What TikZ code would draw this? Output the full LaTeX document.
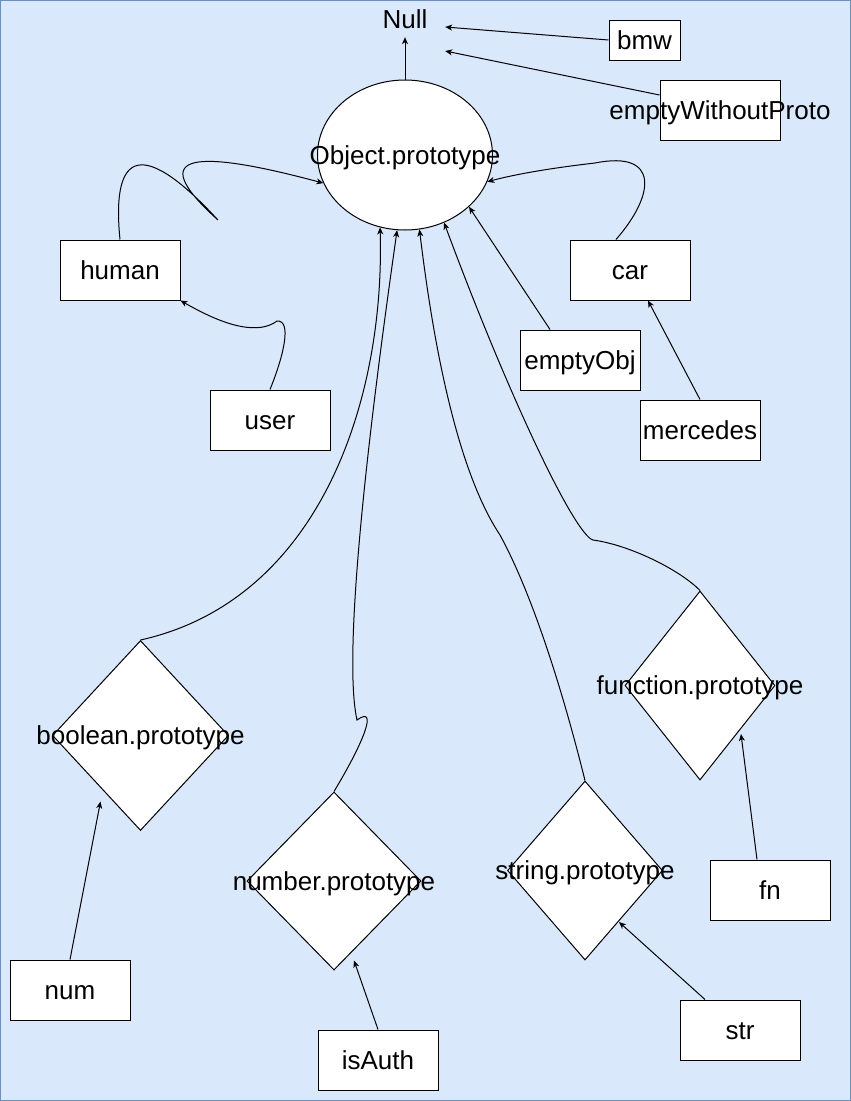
\documentclass[tikz,border=0pt]{standalone}
\usepackage{fontspec}
\setmainfont{Liberation Sans}
\usetikzlibrary{shapes.geometric,arrows.meta,calc}
\definecolor{bgc}{HTML}{DAE8FC}
\definecolor{bdc}{HTML}{6C8EBF}
\begin{document}
\begin{tikzpicture}[x=1pt,y=-1pt,
  every node/.style={font=\fontsize{26}{30}\selectfont,text height=23.5pt,text depth=5.5pt},
  box/.style={draw=black,fill=white,line width=1pt,minimum width=120pt,minimum height=60pt,inner sep=0pt},
  rhomb/.style={diamond,draw=black,fill=white,line width=1pt,inner sep=0pt,text height=0pt,text depth=0pt},
  lbl/.style={inner sep=0pt},
  conn/.style={draw=black,line width=1pt,-{Stealth[length=7pt,width=6pt,inset=2pt]}},
]
\useasboundingbox (0,0) rectangle (851,1101);
\fill[bgc] (0,0) rectangle (851,1101);
\draw[bdc,line width=1pt] (0.5,0.5) rectangle (850.5,1100.5);

% nodes
\node[lbl,minimum width=80pt,minimum height=36pt] (Null) at (405,19) {Null};
\node[box,minimum width=71pt,minimum height=40pt] (bmw) at (644.5,40) {bmw};
\node[box] (ewp) at (720,110) {};
\node[lbl] (ewpT) at (ewp.center) {emptyWithoutProto};
\node[ellipse,draw=black,fill=white,line width=1pt,minimum width=175pt,minimum height=150pt,inner sep=0pt,text height=0pt,text depth=0pt] (Obj) at (405,155) {};
\node[lbl] (ObjT) at (Obj.center) {Object.prototype};
\node[box] (human) at (120,270) {human};
\node[box] (car) at (630,270) {car};
\node[box] (emptyObj) at (580,360) {emptyObj};
\node[box] (user) at (270,420) {user};
\node[box] (mercedes) at (700,430) {mercedes};

\node[rhomb,minimum width=176pt,minimum height=190pt] (boolP) at (140.5,735.5) {};
\node[lbl] (boolT) at (boolP.center) {boolean.prototype};
\node[rhomb,minimum width=174pt,minimum height=178pt] (numP) at (334,881) {};
\node[lbl] (numT) at (numP.center) {number.prototype};
\node[rhomb,minimum width=155pt,minimum height=179pt] (strP) at (585,870.5) {};
\node[lbl] (strT) at (strP.center) {string.prototype};
\node[rhomb,minimum width=150pt,minimum height=189pt] (funP) at (700,685.5) {};
\node[lbl] (funT) at (funP.center) {function.prototype};

\node[box] (numB) at (70,990) {num};
\node[box] (isAuth) at (378,1060) {isAuth};
\node[box] (strB) at (740,1030) {str};
\node[box] (fnB) at (770,890) {fn};

% connectors
\draw[conn] (Obj.north) -- (Null.south);
\draw[conn] (bmw.west) -- ([yshift=-8pt]Null.east);
\draw[conn] ([yshift=15pt]ewp.west) -- ([yshift=-32pt]Null.east);

\draw[conn] (human.north) .. controls (112,160) and (135,130) .. (218,220)
  .. controls (140,150) and (200,150) .. (Obj.199);
\draw[conn] (user.north) .. controls (284,355) and (292,320) .. (277,321)
  .. controls (265,330) and (240,335) .. (human.south east);
\draw[conn] ([xshift=-14pt]car.north) .. controls (655,195) and (660,150) .. (595,163)
  .. controls (560,167) and (520,173) .. (Obj.-18);
\draw[conn] (mercedes.north) -- ([xshift=18pt]car.south);
\draw[conn] ([xshift=-30pt]emptyObj.north) -- (Obj.-39.5);

\draw[conn] (boolP.north) .. controls (320,600) and (385,400) .. (Obj.-109.6);
\draw[conn] (numP.north) .. controls (365,740) and (378,705) .. (357,720)
  .. controls (348,680) and (350,560) .. (Obj.-96);
\draw[conn] (strP.north) .. controls (560,680) and (530,590) .. (500,535)
  .. controls (470,490) and (440,400) .. (Obj.-79.3);
\draw[conn] (funP.north) .. controls (680,570) and (630,545) .. (593,540)
  .. controls (575,535) and (510,400) .. (Obj.-60.6);

\draw[conn] (numB.north) -- ($(boolP.center)+(-40,66)$);
\draw[conn] (isAuth.north) -- ($(numP.south)+(20,-10)$);
\draw[conn] ([xshift=-35pt]strB.north) -- ($(strP.center)+(34,51.5)$);
\draw[conn] ([xshift=-13pt]fnB.north) -- ($(funP.center)+(41,48.5)$);
\end{tikzpicture}
\end{document}
